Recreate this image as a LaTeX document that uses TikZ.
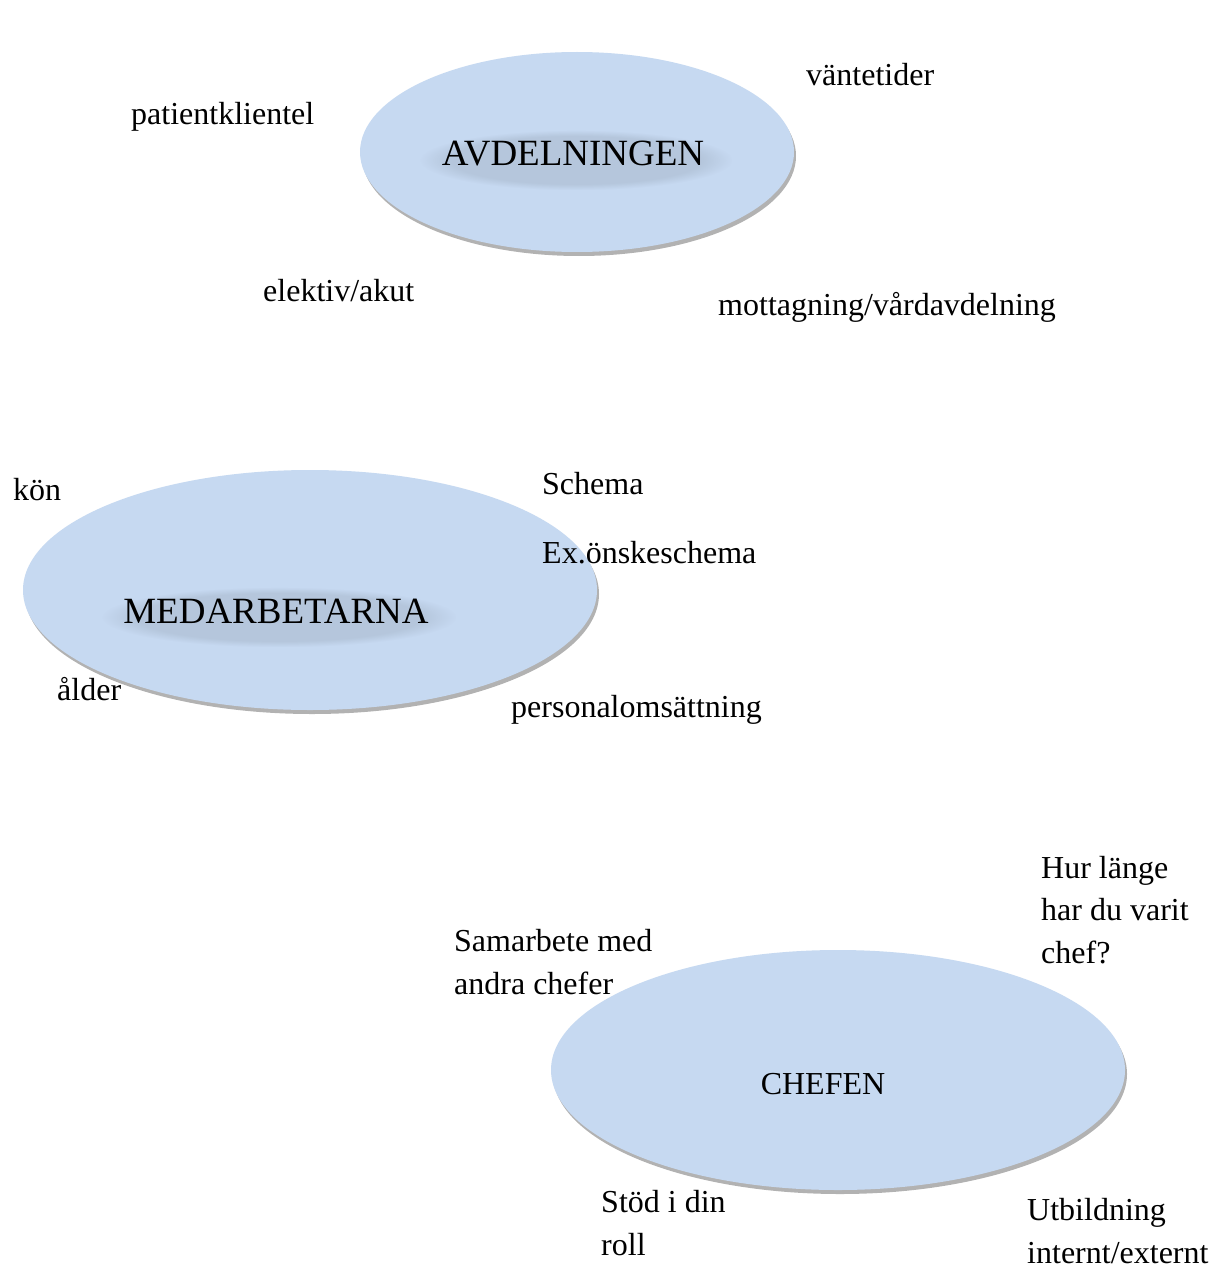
\documentclass[tikz,border=0pt]{standalone}
\usepackage{fontspec}
\setmainfont{Liberation Serif}
\usetikzlibrary{shadows,shapes.geometric,fadings}
\definecolor{ovalblue}{HTML}{C6D9F1}
\tikzset{
  x=1pt, y=-1pt,
  oval/.style={ellipse, fill=ovalblue, inner sep=0pt,
    drop shadow={shadow xshift=2pt, shadow yshift=-4pt, fill=black, opacity=0.3}},
  lbl/.style={inner sep=0pt, anchor=base west, align=left,
    font=\fontsize{32}{42.5}\selectfont},
  bigtxt/.style={inner sep=0pt, font=\fontsize{37}{44}\selectfont},
  midtxt/.style={inner sep=0pt, font=\fontsize{32}{40}\selectfont},
  glow/.style={fill=black!60!ovalblue, fill opacity=0.14, path fading=circle with fuzzy edge 20 percent}
}
\begin{document}
\begin{tikzpicture}
\useasboundingbox[fill=white] (0,0) rectangle (1213,1268);
% ellipses
\node[oval, minimum width=434pt, minimum height=200pt] (e1) at (577,152) {};
\node[oval, minimum width=574pt, minimum height=240pt] (e2) at (310,590) {};
\node[oval, minimum width=574pt, minimum height=240pt] (e3) at (838,1070) {};
% soft glows behind titles
\fill[glow] (420,130) rectangle (732,190);
\fill[glow] (102,587) rectangle (456,647);
% centre titles
\node[bigtxt, anchor=base] (avd) at (573,166) {AVDELNINGEN};
\node[bigtxt, anchor=base] (med) at (276,623) {MEDARBETARNA};
\node[midtxt, anchor=base] (chef) at (823,1094) {CHEFEN};
% labels
\node[lbl] (vant) at (806,86) {väntetider};
\node[lbl] (pat) at (131,125) {patientklientel};
\node[lbl] (elek) at (263,301) {elektiv/akut};
\node[lbl] (mott) at (718,315) {mottagning/vårdavdelning};
\node[lbl] (kon) at (13,500) {kön};
\node[lbl] (sch) at (542,494) {Schema};
\node[lbl] (exo) at (542,563) {Ex.önskeschema};
\node[lbl] (ald) at (57,700) {ålder};
\node[lbl] (pers) at (511,717) {personalomsättning};
\node[lbl] (hur) at (1041,963) {Hur länge\\har du varit\\chef?};
\node[lbl] (sam) at (454,994) {Samarbete med\\andra chefer};
\node[lbl] (stod) at (601,1255) {Stöd i din\\roll};
\node[lbl] (utb) at (1027,1263) {Utbildning\\internt/externt};
\end{tikzpicture}
\end{document}
